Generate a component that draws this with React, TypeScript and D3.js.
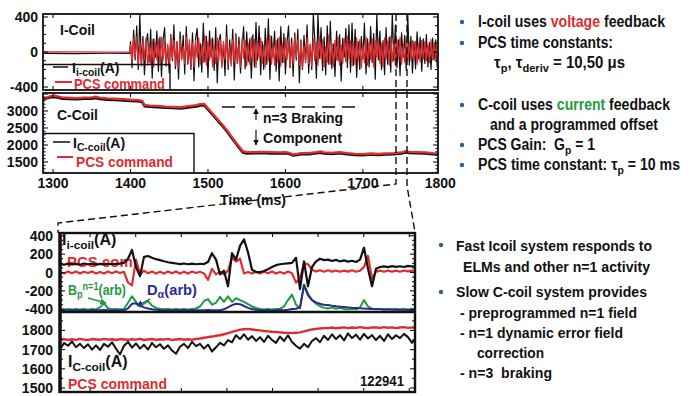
import React from "react";
import * as d3 from "d3";

const FONT = "'Liberation Sans', Arial, Helvetica, sans-serif";
const RED = "#e02b2f";
const GREEN = "#1f9a3f";
const NAVY = "#2b2b8e";
const BULLET = "#2c5d9c";

// ---------- top figure: I-coil ----------
const iPreTimes = [1287, 1330, 1370, 1399];
const iPreCoil = [-15, -18, -14, -16];
const iPreCmd = [0, 2, -1, 0];
const iTimes = d3.range(1400, 1797, 2);
const iCoil = [
  120,-180,250,-90,300,-200,430,-150,180,-260,90,210,-120,260,-300,150,-60,240,-220,170,
  -280,130,280,-160,60,-240,200,-100,310,-190,120,-310,230,-80,190,-250,290,-140,80,-200,
  220,-330,150,270,-170,100,-230,330,-110,180,-290,240,-60,160,-210,280,-350,120,200,-150,
  90,-270,310,-200,140,-80,260,-320,210,-130,170,-240,60,290,-190,230,-110,150,-300,200,
  -170,340,-90,300,-260,120,-200,270,-140,380,-310,180,-60,240,-220,150,-330,290,-120,210,
  -250,100,300,-180,160,-280,220,-90,260,-350,140,-200,190,-120,310,-240,80,-200,430,120,
  -300,440,-70,280,-210,170,-260,300,-140,350,-190,90,-280,240,-100,200,-330,160,-60,270,
  -180,310,-230,330,-150,260,-290,120,-200,180,-80,330,-250,150,-170,290,-120,210,-310,430,
  -90,240,-200,130,-260,280,-140,170,-230,440,-100,310,-180,140,-270,220,-60,190,-210,420,
  -150,180,-240,120,-190,230,-80,170,-220,150,-130,200,-170,110,-200,160,-90,140,-180
];
const iCmd = [
  80,-120,150,-60,170,-140,90,-160,130,-80,160,-150,60,-130,140,-170,100,-90,150,-120,
  170,-100,120,-160,90,-140,180,-70,130,-150,110,-180,150,-90,60,-130,170,-110,140,-160,
  100,-170,130,-60,160,-140,80,-120,190,-150,120,-90,150,-170,70,-130,160,-100,140,-180,
  120,-80,170,-150,60,-160,140,-110,180,-130,90,-170,150,-70,130,-160,100,-140,170,-90,
  140,-180,110,-60,160,-130,80,-170,150,-100,190,-140,70,-150,130,-110,170,-160,90,-120,
  160,-90,130,-170,100,-140,180,-60,140,-150,120,-180,70,-110,160,-130,90,-160,150,-100,
  110,-150,170,-80,140,-170,60,-120,190,-140,100,-160,130,-90,170,-150,80,-130,150,-110,
  180,-70,120,-160,90,-140,160,-100,140,-180,70,-120,170,-150,110,-90,150,-170,130,-60,
  150,-130,100,-170,160,-80,120,-150,180,-110,90,-160,140,-70,170,-140,60,-120,150,-100,
  110,-90,130,-100,120,-140,90,-110,130,-80,120,-100,90,-120,140,-90,110,-80,120
];

// ---------- top figure: C-coil ----------
const cTimes = [1287,1292,1297,1302,1307,1312,1320,1330,1340,1350,1355,1360,1370,1380,1390,
  1400,1410,1415,1418,1425,1435,1445,1455,1465,1475,1485,1490,1495,1500,1505,1510,1515,1520,
  1525,1530,1535,1540,1545,1550,1560,1570,1580,1590,1600,1605,1610,1615,1620,1630,1640,1645,
  1650,1660,1670,1680,1690,1700,1710,1720,1730,1740,1750,1755,1760,1770,1780,1790,1797];
const cCmd = [3390,3400,3440,3450,3420,3400,3390,3380,3390,3400,3420,3390,3370,3360,3350,
  3330,3320,3300,3180,3160,3150,3130,3120,3110,3140,3170,3200,3210,3080,2950,2820,2690,2560,
  2420,2260,2110,1960,1820,1790,1790,1800,1790,1780,1790,1770,1720,1740,1760,1760,1790,1810,
  1780,1770,1790,1760,1740,1730,1750,1740,1750,1760,1780,1820,1800,1790,1780,1760,1750];
const cCoil = [3350,3370,3400,3410,3390,3360,3350,3345,3355,3360,3380,3350,3330,3325,3310,
  3290,3285,3260,3140,3125,3110,3095,3085,3070,3100,3130,3160,3170,3040,2910,2780,2650,2520,
  2380,2220,2070,1920,1780,1750,1755,1760,1750,1745,1755,1735,1690,1705,1725,1725,1755,1770,
  1745,1735,1755,1725,1705,1700,1715,1705,1720,1725,1745,1785,1765,1755,1745,1725,1720];

const topXTicks = [1300, 1400, 1500, 1600, 1700, 1800];
const topITickLabels = [400, 0, -400];
const topCTickLabels = [3000, 2500, 2000, 1500];

// ---------- bottom figure (zoom) ----------
const bT0 = 1743.68;
const bDt = 0.17544;
const bTimes = d3.range(90).map((i) => bT0 + i * bDt);
const bICoil = [
  90,85,96,88,94,84,98,90,95,86, 93,88,97,90,94,96,105,150,245,60,
  -40,170,180,160,145,135,122,112,104,98, 92,98,90,96,90,95,92,115,210,140,
  -20,20,-150,210,140,290,360,220,30,5, 5,15,35,60,80,90,95,100,105,160,
  -180,120,-150,60,120,150,135,140,125,138, 120,132,118,128,115,140,270,40,-150,40,
  60,66,58,70,62,68,60,72,65,70
];
const bICmd = [
  0,-10,12,-8,10,-12,8,-6,12,-10, 6,-12,10,-8,12,-6,8,-110,-140,140,
  -20,20,-8,10,-10,8,-12,10,-8,12, -10,8,-12,10,-6,8,-10,-80,40,-20,
  10,-20,20,160,120,150,-10,5,-10,8, -12,10,-8,12,-10,6,-12,10,-8,-110,
  -60,100,90,30,10,25,8,24,10,22, 8,20,10,24,8,20,60,180,-70,10,
  20,8,22,10,20,8,22,12,20,15
];
const bBp = [
  -400,-405,-398,-404,-396,-402,-398,-405,-396,-402, -380,-335,-390,-400,-396,-402,-398,-330,-260,-320,
  -370,-340,-310,-360,-385,-395,-400,-396,-403,-398, -402,-396,-404,-398,-392,-370,-310,-290,-350,-330,
  -265,-320,-260,-320,-280,-300,-320,-345,-370,-385, -398,-402,-396,-404,-398,-395,-370,-300,-240,-350,
  -390,-130,-230,-300,-340,-365,-385,-392,-380,-395, -385,-398,-402,-396,-400,-380,-300,-370,-395,-400,
  -396,-402,-398,-404,-398,-402,-396,-402,-398,-400
];
const bDalpha = [
  -412,-410,-413,-409,-411,-412,-410,-413,-411,-410, -412,-409,-411,-412,-410,-411,-412,-390,-340,-335,
  -360,-380,-392,-400,-405,-408,-410,-411,-412,-410, -411,-409,-412,-410,-411,-412,-410,-409,-411,-412,
  -410,-400,-380,-355,-340,-345,-365,-385,-398,-405, -409,-410,-411,-412,-410,-409,-411,-405,-398,-395,
  -380,-140,-250,-300,-325,-340,-350,-355,-362,-368, -372,-376,-380,-384,-387,-390,-392,-394,-396,-398,
  -400,-402,-403,-404,-405,-406,-406,-407,-407,-408
];
const bCCmd = [
  1752,1755,1750,1754,1751,1756,1752,1750,1755,1753, 1751,1756,1752,1754,1750,1755,1753,1751,1754,1752,
  1756,1750,1753,1755,1751,1754,1752,1756,1750,1753, 1755,1752,1754,1751,1756,1758,1762,1765,1768,1772,
  1775,1780,1786,1792,1798,1804,1806,1808,1805,1802, 1800,1797,1795,1793,1792,1790,1788,1787,1786,1788,
  1790,1795,1800,1805,1808,1810,1812,1812,1815,1811, 1814,1816,1812,1815,1813,1817,1814,1812,1816,1815,
  1813,1817,1814,1816,1812,1815,1817,1813,1816,1815
];
const bCCoil = [
  1700,1735,1720,1742,1712,1730,1708,1728,1700,1722, 1698,1730,1715,1738,1705,1675,1720,1740,1710,1732,
  1705,1725,1700,1735,1712,1728,1704,1722,1695,1678, 1715,1730,1708,1740,1718,1730,1705,1726,1690,1712,
  1735,1722,1750,1738,1775,1755,1780,1752,1770,1745, 1765,1740,1772,1750,1735,1768,1745,1775,1740,1720,
  1705,1730,1712,1745,1760,1738,1772,1750,1780,1755, 1775,1748,1785,1760,1778,1752,1782,1758,1776,1750,
  1772,1745,1780,1755,1775,1760,1782,1765,1735,1760
];
const botXTicks = [1745, 1747, 1749, 1751, 1753, 1755, 1757, 1759];
const botITickLabels = [400, 200, 0, -200, -400];
const botCTickLabels = [1800, 1700, 1600, 1500];

type Part = { t: string; c?: string; sub?: boolean; sup?: boolean };

function Rich({ x, y, size, w, parts, fill = "#111", weight = "bold" }: {
  x: number; y: number; size: number; w?: number; parts: Part[]; fill?: string; weight?: string;
}) {
  let shift = 0;
  const spans = parts.map((p, i) => {
    const target = p.sub ? size * 0.22 : p.sup ? -size * 0.36 : 0;
    const dy = target - shift;
    shift = target;
    return (
      <tspan key={i} dy={dy} fontSize={p.sub || p.sup ? size * 0.74 : size} fill={p.c || fill}>
        {p.t}
      </tspan>
    );
  });
  const extra: any = w ? { textLength: w, lengthAdjust: "spacingAndGlyphs" } : {};
  return (
    <text x={x} y={y} fontSize={size} fontWeight={weight} fontFamily={FONT} fill={fill}
      style={{ whiteSpace: "pre" }} {...extra}>
      {spans}
    </text>
  );
}

function path(xs: number[], ys: number[], sx: any, sy: any) {
  return d3.line<number>().x((_, i) => sx(xs[i])).y((d) => sy(d))(ys) || "";
}

export default function App() {
  const xT = d3.scaleLinear().domain([1287, 1797]).range([43, 438]);
  const yI = d3.scaleLinear().domain([-434, 434]).range([90, 14]);
  const yC = d3.scaleLinear().domain([1176, 3529]).range([173, 93]);
  const xB = d3.scaleLinear().domain([1743.68, 1759.25]).range([60, 415]);
  const yBI = d3.scaleLinear().domain([-430, 430]).range([312, 233]);
  const yBC = d3.scaleLinear().domain([1479, 1896]).range([392, 312]);

  const iX = [...iPreTimes, ...iTimes];
  const tickLines: JSX.Element[] = [];
  let k = 0;
  const hTick = (x0: number, x1: number, y: number, len: number) => {
    tickLines.push(<line key={k++} x1={x0} x2={x0 + len} y1={y} y2={y} />);
    tickLines.push(<line key={k++} x1={x1} x2={x1 - len} y1={y} y2={y} />);
  };
  const vTick = (x: number, y0: number, y1: number, len: number) => {
    tickLines.push(<line key={k++} x1={x} x2={x} y1={y0} y2={y0 + len} />);
    tickLines.push(<line key={k++} x1={x} x2={x} y1={y1} y2={y1 - len} />);
  };
  d3.range(-400, 401, 100).forEach((v) => hTick(43, 438, yI(v), v % 400 === 0 ? 5 : 3));
  d3.range(1200, 3501, 100).forEach((v) => hTick(43, 438, yC(v), v % 500 === 0 ? 5 : 2.5));
  topXTicks.filter((t) => t < 1797).forEach((t) => { vTick(xT(t), 14, 90, 4); vTick(xT(t), 93, 173, 4); });
  d3.range(-400, 401, 50).forEach((v) => hTick(60, 415, yBI(v), v % 200 === 0 ? 5 : 3));
  d3.range(1500, 1891, 50).forEach((v) => hTick(60, 415, yBC(v), v % 100 === 0 ? 5 : 3));
  botXTicks.forEach((t) => { vTick(xB(t), 233, 392, 4); });

  const topRight = [
    { x: 478, y: 27, w: 187, b: 22, parts: [{ t: "I-coil uses " }, { t: "voltage", c: RED }, { t: " feedback" }] },
    { x: 478, y: 48, w: 135, b: 43, parts: [{ t: "PCS time constants:" }] },
    { x: 494, y: 68, w: 131, parts: [{ t: "τ" }, { t: "p", sub: true }, { t: ", τ" }, { t: "deriv", sub: true }, { t: " = 10,50 μs" }] },
    { x: 478, y: 110, w: 192, b: 105, parts: [{ t: "C-coil uses " }, { t: "current", c: GREEN }, { t: " feedback" }] },
    { x: 490, y: 130, w: 168, parts: [{ t: "and a programmed offset" }] },
    { x: 478, y: 150, w: 117, b: 145, parts: [{ t: "PCS Gain:  G" }, { t: "p", sub: true }, { t: " = 1" }] },
    { x: 478, y: 170, w: 202, b: 165, parts: [{ t: "PCS time constant: τ" }, { t: "p", sub: true }, { t: " = 10 ms" }] },
  ];
  const botRight = [
    { x: 456, y: 251, w: 196, b: 245, t: "Fast Icoil system responds to" },
    { x: 463, y: 272, w: 187, t: "ELMs and other n=1 activity" },
    { x: 456, y: 297, w: 191, b: 292, t: "Slow C-coil system provides" },
    { x: 460, y: 318, w: 177, t: "- preprogrammed n=1 field" },
    { x: 460, y: 338, w: 163, t: "- n=1 dynamic error field" },
    { x: 477, y: 358, w: 67, t: "correction" },
    { x: 460, y: 378, w: 92, t: "- n=3  braking" },
  ];

  return (
    <svg width={698} height={396} viewBox="0 0 698 396"
      style={{ position: "absolute", left: 0, top: 0, background: "#fff" }}>
      <defs>
        <clipPath id="cT1"><rect x={43} y={14} width={395} height={76} /></clipPath>
        <clipPath id="cT2"><rect x={43} y={93} width={395} height={80} /></clipPath>
        <clipPath id="cB1"><rect x={60} y={233} width={355} height={79} /></clipPath>
        <clipPath id="cB2"><rect x={60} y={312} width={355} height={80} /></clipPath>
        <marker id="mBlk" viewBox="0 0 10 10" refX={9} refY={5} markerWidth={5} markerHeight={5} orient="auto">
          <path d="M0,0 L10,5 L0,10 z" fill="#111" />
        </marker>
        <marker id="mGrn" viewBox="0 0 10 10" refX={9} refY={5} markerWidth={5} markerHeight={5} orient="auto">
          <path d="M0,0 L10,5 L0,10 z" fill={GREEN} />
        </marker>
        <marker id="mNvy" viewBox="0 0 10 10" refX={9} refY={5} markerWidth={5} markerHeight={5} orient="auto">
          <path d="M0,0 L10,5 L0,10 z" fill={NAVY} />
        </marker>
      </defs>
      <rect x={0} y={0} width={698} height={396} fill="#fff" />

      {/* ---------- top panel 1 ---------- */}
      <g clipPath="url(#cT1)" fill="none" strokeLinejoin="round">
        <path d={path(iX, [...iPreCoil, ...iCoil], xT, yI)} stroke="#111" strokeWidth={1.2} />
        <path d={path(iX, [...iPreCmd, ...iCmd], xT, yI)} stroke={RED} strokeWidth={1.3} />
      </g>
      {/* ---------- top panel 2 ---------- */}
      <g clipPath="url(#cT2)" fill="none" strokeLinejoin="round">
        <path d={path(cTimes, cCoil, xT, yC)} stroke="#111" strokeWidth={2.4} />
        <path d={path(cTimes, cCmd, xT, yC)} stroke={RED} strokeWidth={2.3} />
      </g>

      {/* legend boxes */}
      <path d="M43,64.5 H170 V90" fill="none" stroke="#111" strokeWidth={1.4} />
      <path d="M43,133.5 H194 V173" fill="none" stroke="#111" strokeWidth={1.4} />
      <line x1={53} x2={68} y1={67} y2={67} stroke="#111" strokeWidth={1.5} />
      <Rich x={72} y={73} size={14} parts={[{ t: "I" }, { t: "i-coil", sub: true }, { t: "(A)" }]} />
      <line x1={55} x2={72} y1={82} y2={82} stroke={RED} strokeWidth={2} />
      <Rich x={74} y={89} size={14} w={91} fill={RED} parts={[{ t: "PCS command" }]} />
      <line x1={53} x2={70} y1={142} y2={142} stroke="#111" strokeWidth={1.5} />
      <Rich x={73} y={148} size={14} parts={[{ t: "I" }, { t: "C-coil", sub: true }, { t: "(A)" }]} />
      <line x1={57} x2={73} y1={157} y2={157} stroke={RED} strokeWidth={2} />
      <Rich x={76} y={167} size={14} w={97} fill={RED} parts={[{ t: "PCS command" }]} />

      <Rich x={60} y={35} size={15} w={35} parts={[{ t: "I-Coil" }]} />
      <Rich x={57} y={120} size={15} w={41} parts={[{ t: "C-Coil" }]} />

      {/* braking annotation */}
      <line x1={222} x2={360} y1={107} y2={107} stroke="#111" strokeWidth={1.3} strokeDasharray="13,7" />
      <line x1={256} x2={256} y1={120} y2={109} stroke="#111" strokeWidth={1.2} markerEnd="url(#mBlk)" />
      <line x1={256} x2={256} y1={130} y2={145} stroke="#111" strokeWidth={1.2} markerEnd="url(#mBlk)" />
      <Rich x={263} y={123} size={14} w={80} parts={[{ t: "n=3 Braking" }]} />
      <Rich x={263} y={143} size={14} w={79} parts={[{ t: "Component" }]} />

      {/* frames top */}
      <rect x={43} y={14} width={395} height={76} fill="none" stroke="#111" strokeWidth={1.8} />
      <rect x={43} y={93} width={395} height={80} fill="none" stroke="#111" strokeWidth={1.8} />

      {/* axes labels */}
      <g fontFamily={FONT} fontWeight="bold" fontSize={14} fill="#111">
        {topITickLabels.map((v) => (
          <text key={"ti" + v} x={38} y={yI(v) + 5} textAnchor="end">{v}</text>
        ))}
        {topCTickLabels.map((v) => (
          <text key={"tc" + v} x={38} y={yC(v) + 5} textAnchor="end">{v}</text>
        ))}
        {topXTicks.map((t) => (
          <text key={"tx" + t} x={xT(t)} y={188} textAnchor="middle">{t}</text>
        ))}
        <text x={253} y={205} textAnchor="middle">Time (ms)</text>
        {botITickLabels.map((v) => (
          <text key={"bi" + v} x={53} y={yBI(v) + 5} textAnchor="end">{v}</text>
        ))}
        {botCTickLabels.map((v) => (
          <text key={"bc" + v} x={53} y={yBC(v) + 5} textAnchor="end">{v}</text>
        ))}
      </g>

      {/* zoom connectors */}
      <path d="M396,14 V184 L58,223 V233" fill="none" stroke="#111" strokeWidth={1.4} strokeDasharray="7,4" />
      <path d="M407,14 V186 L415,232" fill="none" stroke="#111" strokeWidth={1.4} strokeDasharray="7,4" />

      {/* ---------- bottom panel 1 ---------- */}
      <Rich x={62} y={245} size={16} parts={[{ t: "I" }, { t: "i-coil", sub: true }, { t: "(A)" }]} />
      <Rich x={67} y={267} size={15} fill={RED} parts={[{ t: "PCS com" }]} />
      <Rich x={68} y={295} size={14} w={58} fill={GREEN} parts={[{ t: "B" }, { t: "p", sub: true }, { t: "n=1", sup: true }, { t: "(arb)" }]} />
      <Rich x={147} y={295} size={14} w={50} fill={NAVY} parts={[{ t: "D" }, { t: "α", sub: true }, { t: "(arb)" }]} />
      <line x1={88} y1={298} x2={106} y2={303} stroke={GREEN} strokeWidth={1.3} markerEnd="url(#mGrn)" />
      <line x1={150} y1={299} x2={137} y2={306} stroke={NAVY} strokeWidth={1.3} markerEnd="url(#mNvy)" />
      <g clipPath="url(#cB1)" fill="none" strokeLinejoin="round">
        <path d={path(bTimes, bICmd, xB, yBI)} stroke={RED} strokeWidth={2.2} />
        <path d={path(bTimes, bBp, xB, yBI)} stroke={GREEN} strokeWidth={2} />
        <path d={path(bTimes, bDalpha, xB, yBI)} stroke={NAVY} strokeWidth={2} />
        <path d={path(bTimes, bICoil, xB, yBI)} stroke="#111" strokeWidth={2.2} />
      </g>

      {/* ---------- bottom panel 2 ---------- */}
      <g clipPath="url(#cB2)" fill="none" strokeLinejoin="round">
        <path d={path(bTimes, bCCmd, xB, yBC)} stroke={RED} strokeWidth={2.4} />
        <path d={path(bTimes, bCCoil, xB, yBC)} stroke="#111" strokeWidth={2} />
      </g>
      <Rich x={68} y={367} size={16} parts={[{ t: "I" }, { t: "C-coil", sub: true }, { t: "(A)" }]} />
      <Rich x={68} y={389} size={15} w={99} fill={RED} parts={[{ t: "PCS command" }]} />
      <Rich x={360} y={386} size={14} w={44} parts={[{ t: "122941" }]} />

      {/* frames bottom */}
      <rect x={60} y={233} width={355} height={159} fill="none" stroke="#111" strokeWidth={2.4} />
      <line x1={60} x2={415} y1={312} y2={312} stroke="#111" strokeWidth={2.6} />
      <line x1={60} x2={60} y1={232} y2={393} stroke="#111" strokeWidth={3.4} />

      <g stroke="#111" strokeWidth={1.1}>{tickLines}</g>

      {/* right-hand notes */}
      {topRight.map((l, i) => (
        <g key={"tr" + i}>
          {l.b !== undefined && <circle cx={462} cy={l.b} r={2.2} fill={BULLET} />}
          <Rich x={l.x} y={l.y} size={16} w={l.w} parts={l.parts as Part[]} />
        </g>
      ))}
      {botRight.map((l, i) => (
        <g key={"br" + i}>
          {l.b !== undefined && <circle cx={441} cy={l.b} r={2.2} fill={BULLET} />}
          <Rich x={l.x} y={l.y} size={14} w={l.w} parts={[{ t: l.t }]} />
        </g>
      ))}
    </svg>
  );
}
